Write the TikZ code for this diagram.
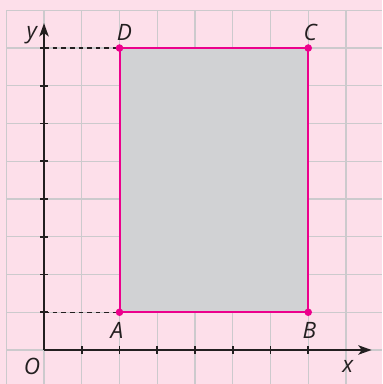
\documentclass[tikz,border=0pt]{standalone}
\usepackage{fontspec}
\setmainfont{Open Sans}
\usetikzlibrary{arrows.meta}
\definecolor{bgpink}{RGB}{253,223,234}
\definecolor{gridgray}{RGB}{204,202,205}
\definecolor{rectgray}{RGB}{209,210,212}
\definecolor{pointpink}{RGB}{236,0,140}
\definecolor{axisdark}{RGB}{35,31,32}
\tikzset{
  axisline/.style={line width=1.8pt,axisdark},
  tickline/.style={line width=1.3pt,axisdark},
  dot/.style={circle,fill=pointpink,inner sep=0pt,minimum size=0.2cm},
  lbl/.style={font=\itshape\fontsize{17}{19}\selectfont,text=axisdark}
}
\begin{document}
\begin{tikzpicture}
\fill[bgpink] (-1.166,-0.901) rectangle (8.954,9.272);
\useasboundingbox (-1.166,-0.901) rectangle (8.954,9.272);
\draw[gridgray,line width=0.9pt] (-1,-0.901) grid (8.954,9);
% points and rectangle
\coordinate (O) at (0,0);
\coordinate (A) at (2,1);
\coordinate (B) at (7,1);
\coordinate (C) at (7,8);
\coordinate (D) at (2,8);
\coordinate (xend) at (8.68,0);
\coordinate (yend) at (0,8.66);
\coordinate (y1) at (0,1);
\coordinate (y8) at (0,8);
\draw[pointpink,fill=rectgray,line width=1.5pt] (A) -- (B) -- (C) -- (D) -- cycle;
\draw[axisdark,line width=0.8pt,dash pattern=on 3.5pt off 3pt] (y1) -- (A);
\draw[axisdark,line width=0.8pt,dash pattern=on 3.5pt off 3pt] (y8) -- (D);
% axes
\draw[axisline,-{Stealth[length=10pt,width=7pt,inset=2.5pt]}] (O) -- (xend);
\draw[axisline,-{Stealth[length=10pt,width=7pt,inset=2.5pt]}] (O) -- (yend);
\foreach \i in {1,...,7} \draw[tickline] (\i,-0.1) -- (\i,0.1);
\foreach \i in {1,...,8} \draw[tickline] (-0.1,\i) -- (0.1,\i);
\node[dot] (pA) at (A) {};
\node[dot] (pB) at (B) {};
\node[dot] (pC) at (C) {};
\node[dot] (pD) at (D) {};
% labels
\node[lbl] (lA) at (1.93,0.52) {A};
\node[lbl] (lB) at (7.03,0.52) {B};
\node[lbl] (lC) at (7.05,8.42) {C};
\node[lbl] (lD) at (2.13,8.42) {D};
\node[lbl] (lO) at (-0.32,-0.43) {O};
\node[lbl] (lx) at (8.05,-0.43) {x};
\node[lbl] (ly) at (-0.32,8.34) {y};
\end{tikzpicture}
\end{document}
